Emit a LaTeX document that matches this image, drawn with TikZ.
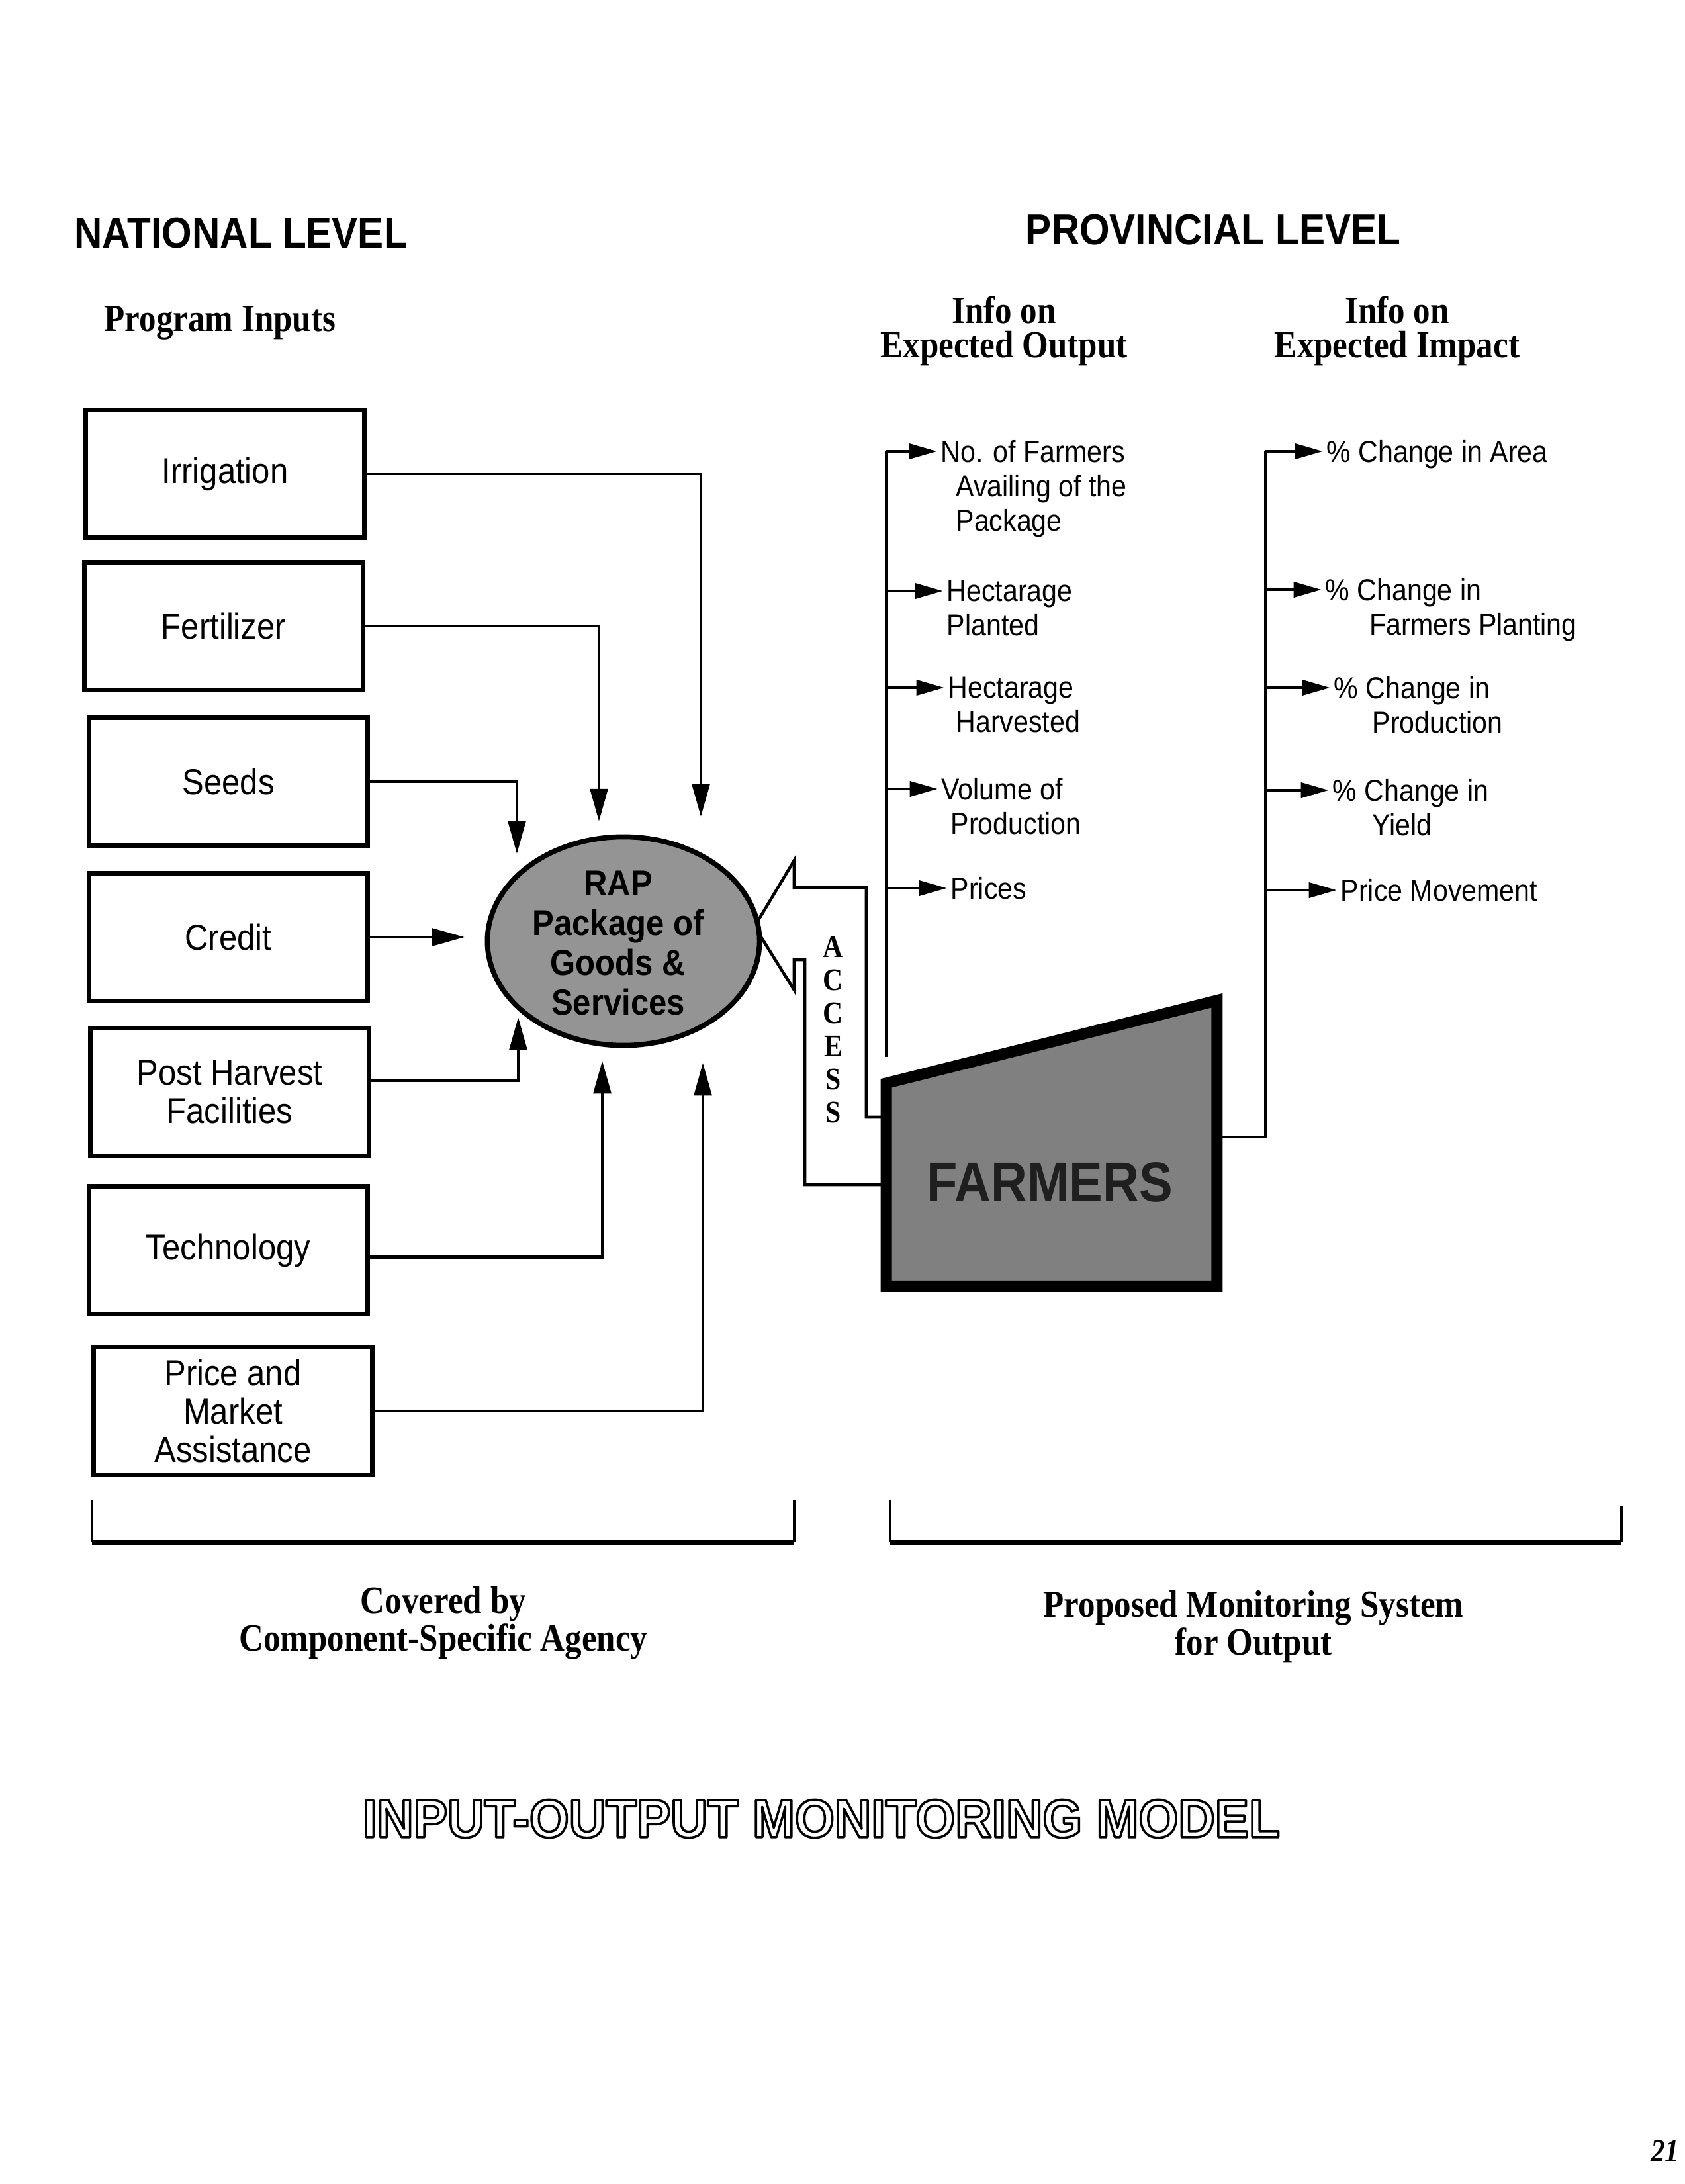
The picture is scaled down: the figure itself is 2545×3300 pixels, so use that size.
\documentclass[tikz,border=0pt]{standalone}
\usepackage{fontspec}
\setmainfont{Liberation Sans}[FakeStretch=0.9]
\newfontfamily\srf{Liberation Serif}[FakeStretch=0.88]
\newfontfamily\ttlfont{Liberation Sans}[FakeStretch=0.95]
\usetikzlibrary{arrows.meta,shapes.geometric,calc}
\newcommand{\outlinetext}[1]{\special{pdf:literal direct 1 Tr 1.0 w 1 j}#1\special{pdf:literal direct 0 Tr 1 w 0 j}}
\begin{document}
\begin{tikzpicture}[x=0.01cm,y=-0.01cm,
  inbox/.style={draw,line width=2pt,minimum width=4.2cm,minimum height=1.93cm,
    align=center,inner sep=0pt,font=\fontsize{15.5}{16.5}\selectfont},
  conn/.style={line width=1.3pt,-{Triangle[length=14pt,width=7.5pt]}},
  sarr/.style={line width=1.3pt,shorten >=1.5pt,-{Triangle[length=12pt,width=6.5pt]}},
  bline/.style={line width=1.3pt},
  head/.style={font=\bfseries\fontsize{18.5}{18.5}\selectfont,inner sep=0pt},
  serifhead/.style={font=\srf\bfseries\fontsize{16.5}{14.8}\selectfont,align=center,inner sep=0pt},
  item/.style={anchor=north west,align=left,inner sep=0pt,font=\fontsize{13}{14.8}\selectfont}
]
\fill[white] (0,0) rectangle (2545,3300);
\useasboundingbox (0,0) rectangle (2545,3300);

% headings
\node[head,anchor=west] (natl) at (112,352) {NATIONAL LEVEL};
\node[head] (prov) at (1833,347) {PROVINCIAL LEVEL};
\node[serifhead,anchor=west] (proginp) at (157,488) {Program Inputs};
\node[serifhead] (infoout) at (1517,500) {Info on\\Expected Output};
\node[serifhead] (infoimp) at (2111,500) {Info on\\Expected Impact};

% input boxes
\node[inbox] (irr) at (340,716) {Irrigation};
\node[inbox] (fert) at (338,946) {Fertilizer};
\node[inbox] (seed) at (345,1181) {Seeds};
\node[inbox] (cred) at (345,1416) {Credit};
\node[inbox] (post) at (347,1650) {Post Harvest\\Facilities};
\node[inbox] (tech) at (345,1889) {Technology};
\node[inbox] (price) at (352,2132) {Price and\\Market\\Assistance};

% farmers shape
\node[minimum width=4.98cm,minimum height=3.05cm,inner sep=0pt] (farmers) at (1589,1790) {};
\filldraw[fill=black!50,line width=4.8pt,line join=miter]
  (farmers.south west) -- (farmers.north west) -- ($(farmers.north east)+(0,-125)$)
  -- (farmers.south east) -- cycle;
\node[font=\bfseries\fontsize{24}{24}\selectfont,text=black!88] (farmtxt) at (1586,1786) {FARMERS};

% access arrow (drawn before the ellipse so its tip meets the rim)
\coordinate (acTip) at (1140,1400);
\draw[line width=1.3pt,line join=miter]
  (farmers.west |- 0,1688) -- (1309,1688) -- (1309,1341) -- (1200,1341) -- (1200,1300)
  -- (acTip) -- (1200,1496) -- (1200,1450) -- (1216,1450) -- (1216,1790)
  -- (farmers.west |- 0,1790);
\node[font=\srf\bfseries\fontsize{13.5}{14.2}\selectfont,align=center,inner sep=0pt]
  (access) at (1259,1556) {A\\C\\C\\E\\S\\S};

% RAP ellipse
\node[draw,ellipse,line width=2.2pt,fill=black!42,minimum width=4.11cm,
  minimum height=3.15cm,inner sep=0pt] (rap) at (942,1422) {};
\node[font=\bfseries\fontsize{15.5}{17}\selectfont,align=center,inner sep=0pt]
  (raptxt) at (934,1425) {RAP\\Package of\\Goods \&\\Services};

% arrow tips near the ellipse
\coordinate (tIrr) at (1059,1234);
\coordinate (tFert) at (905,1241);
\coordinate (tSeed) at (781,1290);
\coordinate (tCred) at (702,1416);
\coordinate (tPost) at (783,1537);
\coordinate (tTech) at (910,1603);
\coordinate (tPrice) at (1062,1606);

\draw[conn] (irr.east) -| (tIrr);
\draw[conn] (fert.east) -| (tFert);
\draw[conn] (seed.east) -| (tSeed);
\draw[conn] (cred.east) -- (tCred);
\draw[conn] ([yshift=5pt]post.east) -| (tPost);
\draw[conn] ([yshift=-3pt]tech.east) -| (tTech);
\draw[conn] (price.east) -| (tPrice);

% expected output list
\coordinate (oTop) at (1339,682);
\coordinate (oBot) at (1339,1597);
\draw[bline] (oBot) -- (oTop);
\coordinate (o2) at (1339,893);
\coordinate (o3) at (1339,1039);
\coordinate (o4) at (1339,1192);
\coordinate (o5) at (1339,1342);
\node[item] (out1) at (1421,665) {No. of Farmers\\\hspace*{6.5pt}Availing of the\\\hspace*{6.5pt}Package};
\node[item] (out2) at (1430,876) {Hectarage\\Planted};
\node[item] (out3) at (1432,1022) {Hectarage\\\hspace*{3.4pt}Harvested};
\node[item] (out4) at (1422,1175) {Volume of\\\hspace*{4pt}Production};
\node[item] (out5) at (1436,1325) {Prices};
\draw[sarr] (oTop) -- (oTop -| out1.west);
\draw[sarr] (o2) -- (o2 -| out2.west);
\draw[sarr] (o3) -- (o3 -| out3.west);
\draw[sarr] (o4) -- (o4 -| out4.west);
\draw[sarr] (o5) -- (o5 -| out5.west);

% expected impact list
\coordinate (iTop) at (1912,682);
\coordinate (iBot) at (1912,1718);
\draw[bline] (farmers.east |- iBot) -- (iBot) -- (iTop);
\coordinate (i2) at (1912,891);
\coordinate (i3) at (1912,1039);
\coordinate (i4) at (1912,1194);
\coordinate (i5) at (1912,1345);
\node[item] (imp1) at (2004,665) {\% Change in Area};
\node[item] (imp2) at (2002,874) {\% Change in\\\hspace*{19pt}Farmers Planting};
\node[item] (imp3) at (2015,1022) {\% Change in\\\hspace*{16.5pt}Production};
\node[item] (imp4) at (2013,1177) {\% Change in\\\hspace*{17pt}Yield};
\node[item] (imp5) at (2025,1328) {Price Movement};
\draw[sarr] (iTop) -- (iTop -| imp1.west);
\draw[sarr] (i2) -- (i2 -| imp2.west);
\draw[sarr] (i3) -- (i3 -| imp3.west);
\draw[sarr] (i4) -- (i4 -| imp4.west);
\draw[sarr] (i5) -- (i5 -| imp5.west);

% bottom brackets
\draw[line width=1pt] (139,2267) -- (139,2330);
\draw[line width=1pt] (1200,2267) -- (1200,2330);
\draw[line width=2pt] (139,2330) -- (1200,2330);
\draw[line width=1pt] (1345,2267) -- (1345,2330);
\draw[line width=1pt] (2450,2275) -- (2450,2330);
\draw[line width=2pt] (1345,2330) -- (2450,2330);

\node[serifhead,font=\srf\bfseries\fontsize{16.5}{15}\selectfont] (covered) at (670,2452) {Covered by\\Component-Specific Agency};
\node[serifhead,font=\srf\bfseries\fontsize{16.5}{15}\selectfont] (proposed) at (1894,2458) {Proposed Monitoring System\\for Output};

% title (outlined glyphs)
\node[font=\ttlfont\bfseries\fontsize{23}{23}\selectfont,inner sep=0pt] (title) at (1241,2748)
  {\outlinetext{INPUT-OUTPUT MONITORING MODEL}};

% page number
\node[font=\srf\bfseries\itshape\fontsize{14}{14}\selectfont,anchor=east,inner sep=0pt] (pg) at (2538,3250) {21};
\end{tikzpicture}
\end{document}
